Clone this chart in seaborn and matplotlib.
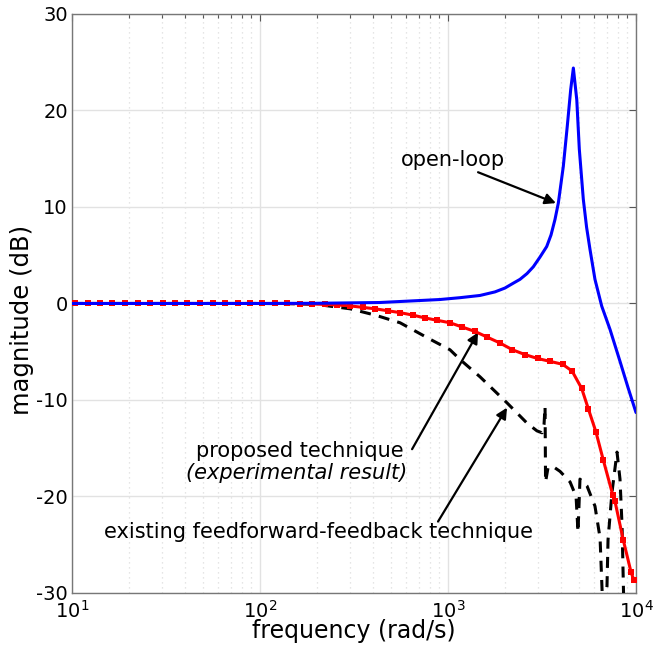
import numpy as np
import pandas as pd
import matplotlib
matplotlib.use("Agg")
import matplotlib.pyplot as plt
import seaborn as sns

# ---- data ----
open_loop_freq = [10, 30, 100, 200, 434, 906, 1158, 1479, 1778, 2009, 2223, 2415, 2632,
                  2843, 3083, 3350, 3532, 3707, 3862, 3963, 4105, 4311, 4496, 4643,
                  4842, 4994, 5245, 5460, 5693, 6050, 6573, 7278, 8222, 9066, 10000]
open_loop_db = [0.0, 0.0, 0.0, 0.02, 0.1, 0.41, 0.6, 0.83, 1.2, 1.6, 2.1, 2.5, 3.1,
                3.8, 4.8, 5.9, 7.1, 8.7, 10.4, 12.0, 14.2, 18.4, 22.2, 24.4,
                21.1, 16.0, 10.8, 7.9, 5.6, 2.5, -0.28, -2.7, -6.0, -8.7, -11.3]

proposed_freq = [10.4, 12.1, 14.1, 16.4, 19.1, 22.3, 26.0, 30.3, 35.3, 41.1, 48.0, 55.9,
                 65.1, 75.9, 88.4, 103, 120, 140, 163, 190, 222, 258, 301, 351, 409,
                 477, 556, 648, 755, 879, 1025, 1194, 1392, 1622, 1891, 2203, 2570,
                 2993, 3490, 4066, 4571, 5140, 5575, 6120, 6695, 7515, 7730, 8555,
                 9400, 9750]
proposed_db = [0, 0, 0, 0, 0, 0, 0, 0, 0, 0, 0, 0,
               0, 0, 0, 0, 0, 0, -0.02, -0.05, -0.1, -0.15, -0.25, -0.4, -0.55,
               -0.75, -0.95, -1.2, -1.5, -1.75, -2.0, -2.45, -2.9, -3.5, -4.1, -4.8,
               -5.3, -5.7, -6.0, -6.3, -7.0, -8.8, -10.9, -13.3, -16.2, -19.8, -20.5,
               -24.5, -27.8, -28.7]

existing_freq = [10, 50, 100, 150, 201, 301, 409, 556, 802, 1025, 1158, 1480, 2060,
                 2632, 2972, 3162, 3243, 3283, 3303, 3405, 3620, 3945, 4460, 4800,
                 4915, 5035, 5485, 6050, 6440, 6670, 7010, 7100, 7450, 7925, 8220,
                 8430, 8630]
existing_db = [0, 0, 0, -0.03, -0.1, -0.55, -1.2, -2.0, -3.7, -4.8, -5.8, -7.6, -10.3,
               -12.4, -13.2, -13.4, -12.5, -10.7, -18.5, -17.0, -16.9, -17.4, -18.5, -20.0,
               -23.7, -18.2, -18.9, -21.0, -24.3, -32.0, -29.3, -24.5, -19.6, -15.4, -18.2,
               -23.0, -32.0]

y_ticks = [-30, -20, -10, 0, 10, 20, 30]
x_ticks = [10, 100, 1000, 10000]
x_tick_labels = ["$10^{1}$", "$10^{2}$", "$10^{3}$", "$10^{4}$"]

sns.set_style("white")
plt.rcParams['font.family'] = ['DejaVu Sans']
plt.rcParams['mathtext.fontset'] = 'dejavusans'
plt.rcParams['text.color'] = 'black'
plt.rcParams['axes.labelcolor'] = 'black'

fig = plt.figure(figsize=(6.56, 6.47), dpi=100)
ax = fig.add_axes([0.1098, 0.0835, 0.8597, 0.8949])

ol = pd.DataFrame({"f": open_loop_freq, "db": open_loop_db})
pr = pd.DataFrame({"f": proposed_freq, "db": proposed_db})
ex = pd.DataFrame({"f": existing_freq, "db": existing_db})

sns.lineplot(data=ex, x="f", y="db", ax=ax, color="black", lw=2.2, sort=False,
             estimator=None, zorder=3)
ax.lines[-1].set_dashes([3.6, 2.7])
sns.lineplot(data=pr, x="f", y="db", ax=ax, color="#ff0000", lw=2.2, sort=False,
             estimator=None, marker="s", markersize=4.0, markeredgewidth=0, zorder=4)
sns.lineplot(data=ol, x="f", y="db", ax=ax, color="#0000ff", lw=2.2, sort=False,
             estimator=None, zorder=5)

ax.set_xscale("log")
ax.set_xlim(10, 10000)
ax.set_ylim(-30, 30)
ax.set_yticks(y_ticks)
ax.set_yticklabels([str(v) for v in y_ticks])
ax.set_xticks(x_ticks)
ax.set_xticklabels(x_tick_labels)
ax.tick_params(axis="both", which="both", direction="in", top=True, right=True,
               labelsize=14, colors="#555555", labelcolor="black")
ax.tick_params(axis="both", which="major", length=5, width=0.8)
ax.tick_params(axis="x", which="minor", length=3, width=0.8)
ax.xaxis.set_minor_locator(matplotlib.ticker.LogLocator(base=10, subs=np.arange(2, 10)))
ax.xaxis.set_minor_formatter(matplotlib.ticker.NullFormatter())
ax.tick_params(axis="x", pad=5)
ax.tick_params(axis="y", pad=3)

ax.grid(True, which="major", color="#e2e2e2", lw=1.0, ls="-", zorder=0)
ax.grid(True, which="minor", axis="x", color="#dddddd", lw=0.9, ls=(0, (1, 3)), zorder=0)
ax.set_axisbelow(True)
for s in ax.spines.values():
    s.set_color("#777777")
    s.set_linewidth(1.0)

ax.set_xlabel("frequency (rad/s)", fontsize=17, labelpad=-2)
ax.set_ylabel("magnitude (dB)", fontsize=17.5)
ax.yaxis.set_label_coords(-0.068, 0.4715)

arrow = dict(arrowstyle="-|>", color="black", lw=1.6, mutation_scale=16,
             shrinkA=0, shrinkB=0)
ax.text(1065, 14.9, "open-loop", fontsize=15, ha="center", va="center")
ax.annotate("", xy=(3750, 10.4), xytext=(1445, 13.6), arrowprops=arrow)

ax.text(163, -15.3, "proposed technique", fontsize=15, ha="center", va="center")
ax.text(157, -17.6, "(experimental result)", fontsize=15, ha="center", va="center",
        style="italic")
ax.annotate("", xy=(1445, -3.0), xytext=(644, -15.1), arrowprops=arrow)

ax.text(204, -23.7, "existing feedforward-feedback technique", fontsize=15,
        ha="center", va="center")
ax.annotate("", xy=(2060, -10.8), xytext=(885, -22.6), arrowprops=arrow)

fig.savefig("out.png", dpi=100)
